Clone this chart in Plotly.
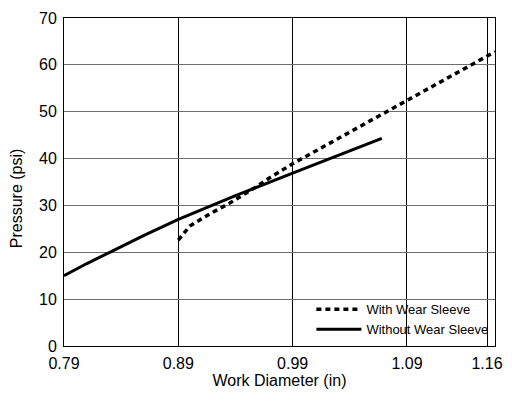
import plotly.graph_objects as go

# readings taken off the reference chart
with_sleeve_x = [0.89, 0.90, 0.9175, 0.935, 0.957, 0.97, 0.99, 1.04, 1.09, 1.167]
with_sleeve_y = [22.6, 25.6, 28.2, 30.5, 33.8, 35.9, 38.9, 45.7, 52.5, 62.8]

without_sleeve_x = [0.79, 0.81, 0.83, 0.86, 0.89, 0.94, 0.99, 1.03, 1.068]
without_sleeve_y = [15.0, 17.6, 20.0, 23.6, 27.0, 32.1, 36.9, 40.7, 44.3]

x_tickvals = [0.79, 0.89, 0.99, 1.09, 1.16]
x_ticktext = ["0.79", "0.89", "0.99", "1.09", "1.16"]
y_tickvals = [0, 10, 20, 30, 40, 50, 60, 70]

font_family = "Liberation Sans Narrow, Arial Narrow, Liberation Sans, Arial"

fig = go.Figure()
fig.add_trace(go.Scatter(
    x=with_sleeve_x, y=with_sleeve_y, mode="lines", name="With Wear Sleeve",
    line=dict(color="black", width=3.5, dash="5px,4px"),
))
fig.add_trace(go.Scatter(
    x=without_sleeve_x, y=without_sleeve_y, mode="lines", name="Without Wear Sleeve",
    line=dict(color="black", width=3),
))

fig.update_xaxes(
    range=[0.79, 1.167], tickvals=x_tickvals, ticktext=x_ticktext,
    title=dict(text="Work Diameter (in)", standoff=2, font=dict(size=16)),
    showline=True, linecolor="black", linewidth=1, mirror=True,
    showgrid=True, gridcolor="black", gridwidth=1, zeroline=False,
    ticks="", tickfont=dict(size=16), ticklabelstandoff=3,
    ticklabeloverflow="allow", automargin=False,
)
fig.update_yaxes(
    range=[0, 70], tickvals=y_tickvals,
    showline=True, linecolor="black", linewidth=1, mirror=True,
    showgrid=True, gridcolor="#6e6e6e", gridwidth=1, zeroline=False,
    ticks="", tickfont=dict(size=16), ticklabelstandoff=3,
    automargin=False,
)
# y title placed as in the reference (slightly below the plot's middle)
fig.add_annotation(
    text="Pressure (psi)", textangle=-90, showarrow=False,
    xref="paper", yref="paper", x=-0.111, y=0.451,
    xanchor="center", yanchor="middle", font=dict(size=16),
)
# the page body adds an 8px margin, so the figure is drawn smaller to fit the window
fig.update_layout(
    width=504, height=385,
    margin=dict(l=56, r=17, t=10, b=47),
    plot_bgcolor="white", paper_bgcolor="white",
    font=dict(family=font_family, size=16, color="black"),
    showlegend=True,
    legend=dict(
        x=0.574, y=0.005, xanchor="left", yanchor="bottom",
        bgcolor="rgba(0,0,0,0)", borderwidth=0, font=dict(size=13),
        tracegroupgap=0, itemwidth=45,
    ),
)

fig.write_html("out.html")
